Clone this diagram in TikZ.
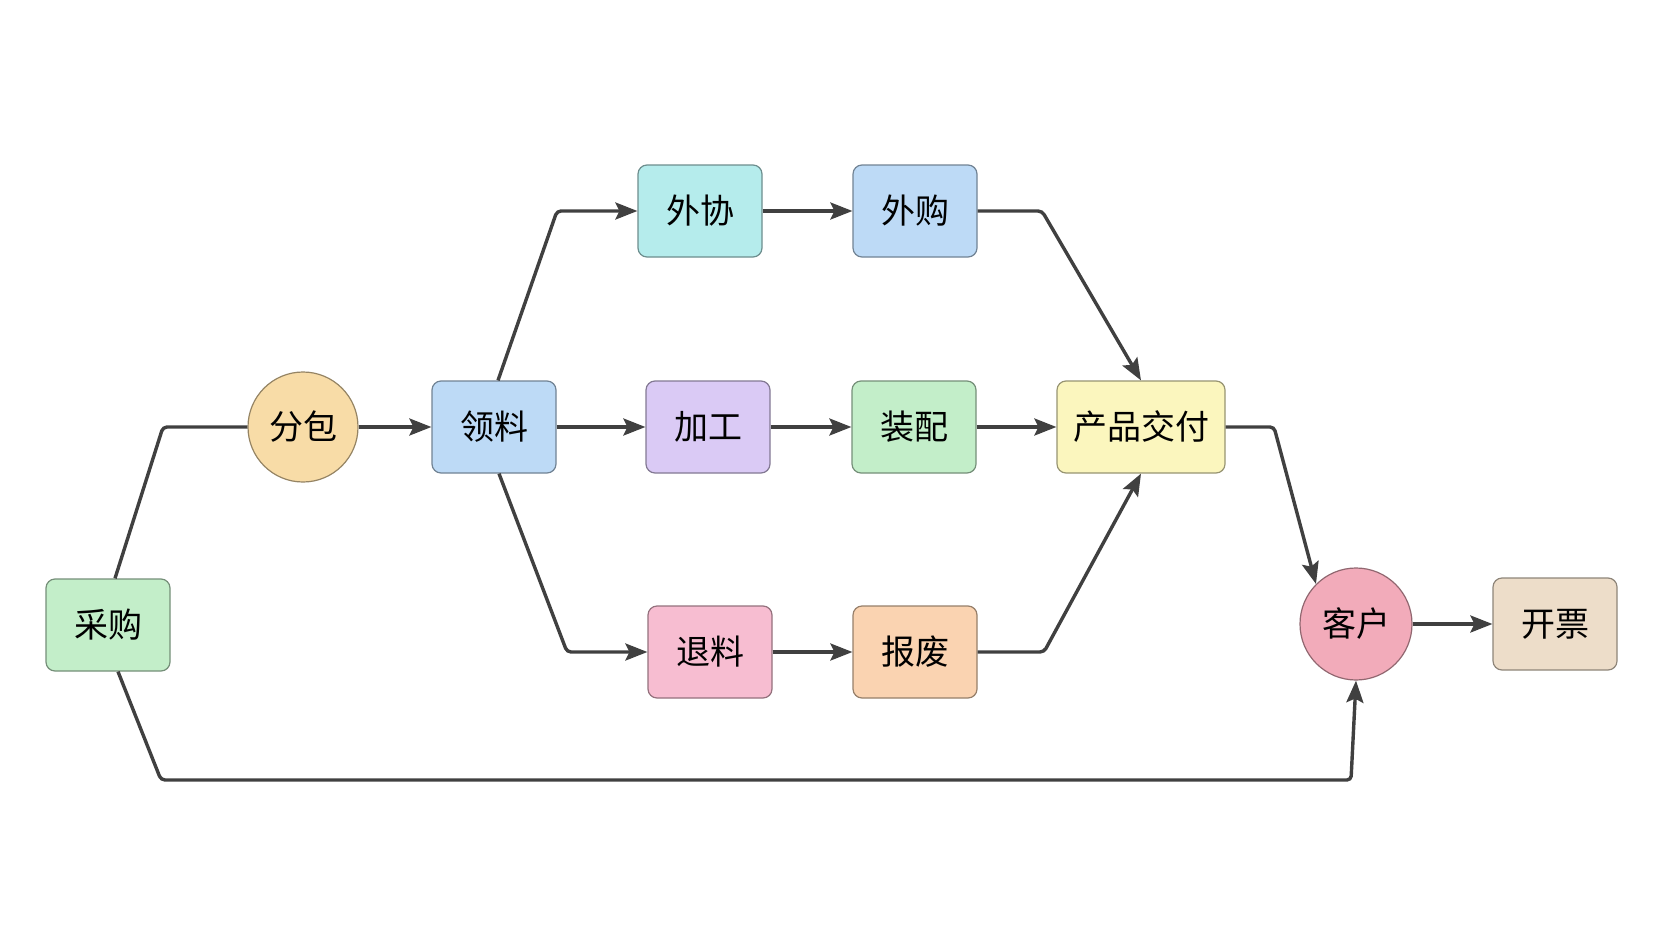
\documentclass[tikz,border=0pt]{standalone}
\usepackage{fontspec}
\setmainfont{Noto Sans CJK SC}
\usetikzlibrary{arrows.meta}
\begin{document}
\begin{tikzpicture}[x=1pt,y=-1pt,
 box/.style={draw=#1!60!black,line width=1.2pt,rounded corners=9pt,minimum width=124pt,minimum height=92pt,font=\fontsize{34}{34}\selectfont,fill=#1},
 circ/.style={draw=#1!60!black,line width=1.2pt,circle,minimum size=110pt,inner sep=0pt,font=\fontsize{34}{34}\selectfont,fill=#1},
 ln/.style={draw=black!75,line width=3.4pt,rounded corners=4pt},
 ar/.style={ln,-{Stealth[length=22pt,width=17pt,inset=4pt]}}]
\definecolor{cg}{HTML}{C3EEC9}\definecolor{cb}{HTML}{BDDAF6}\definecolor{ct}{HTML}{B5ECEC}
\definecolor{cp}{HTML}{DACAF5}\definecolor{cy}{HTML}{FBF6BE}\definecolor{cpk}{HTML}{F7BDD1}
\definecolor{co}{HTML}{FAD3B1}\definecolor{cc}{HTML}{F8DCA7}\definecolor{cr}{HTML}{F2ABBA}
\definecolor{cbe}{HTML}{EDDDC9}
\useasboundingbox (0,0) rectangle (1670,942);
\node[box=cg] (cg) at (108,625) {采购};
\node[circ=cc] (fb) at (303,427) {分包};
\node[box=cb] (ll) at (494,427) {领料};
\node[box=ct] (wx) at (700,211) {外协};
\node[box=cb] (wg) at (915,211) {外购};
\node[box=cp] (jg) at (708,427) {加工};
\node[box=cg] (zp) at (914,427) {装配};
\node[box=cy,minimum width=168pt] (jf) at (1141,427) {产品交付};
\node[box=cpk] (tl) at (710,652) {退料};
\node[box=co] (bf) at (915,652) {报废};
\node[circ=cr,minimum size=112pt] (kh) at (1356,624) {客户};
\node[box=cbe] (kp) at (1555,624) {开票};
\draw[ln] (cg.north) ++(7,0) coordinate (a1) -- (163,427) -- (fb.west);
\draw[ar] (fb) -- (ll);
\draw[ar] (ll.north) ++(4,0) -- (557,211) -- (wx.west);
\draw[ar] (wx) -- (wg);
\draw[ar] (ll) -- (jg);
\draw[ar] (jg) -- (zp);
\draw[ar] (zp) -- (jf);
\draw[ar] (ll.south) ++(5,0) -- (567,652) -- (tl.west);
\draw[ar] (tl) -- (bf);
\draw[ar] (wg.east) -- (1042,211) -- (jf.north);
\draw[ar] (bf.east) -- (1044,652) -- (jf.south);
\draw[ar] (jf.east) -- (1274,427) -- (kh.north west);
\draw[ar] (kh) -- (kp);
\draw[ar] (cg.south) ++(10,0) -- (161,780) -- (1351,780) -- (kh.south);
\end{tikzpicture}
\end{document}
